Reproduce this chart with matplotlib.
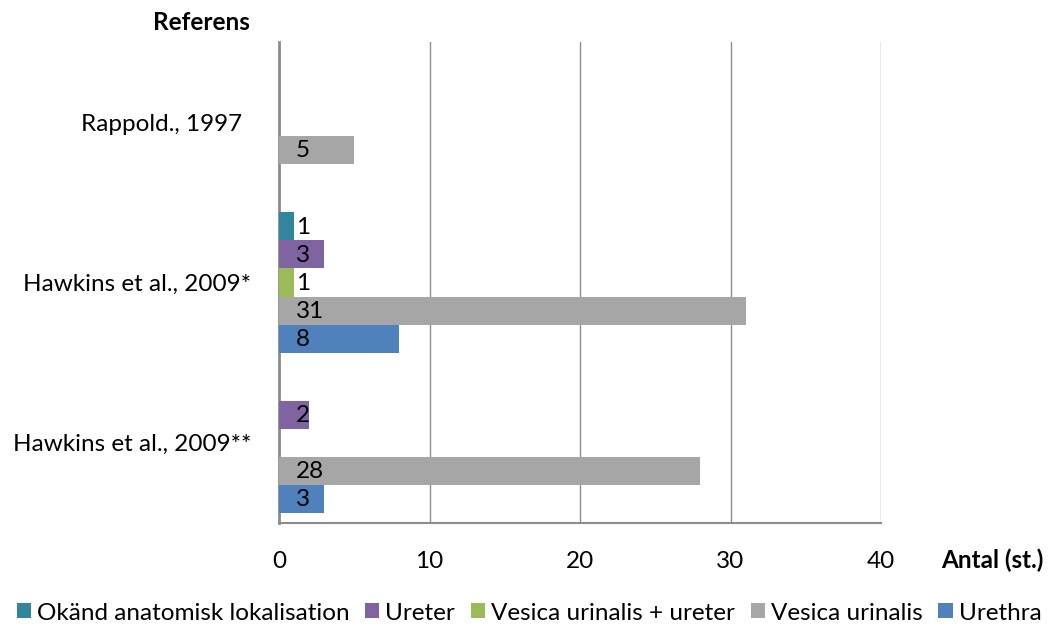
import numpy as np
import matplotlib.pyplot as plt
from matplotlib.transforms import ScaledTranslation

plt.rcParams['font.family'] = ['Lato', 'DejaVu Sans']

# categories listed bottom to top on the y axis
references = ["Hawkins et al., 2009**", "Hawkins et al., 2009*", "Rappold., 1997"]

series_names = ["Urethra", "Vesica urinalis", "Vesica urinalis + ureter",
                "Ureter", "Okänd anatomisk lokalisation"]
urethra = [3, 8, np.nan]
vesica = [28, 31, 5]
vesica_ureter = [np.nan, 1, np.nan]
ureter = [2, 3, np.nan]
okand = [np.nan, 1, np.nan]
series_values = [urethra, vesica, vesica_ureter, ureter, okand]
colors = ["#4F81BD", "#A6A6A6", "#9BBB59", "#8064A2", "#31859C"]

x_ticks = [0, 10, 20, 30, 40]

FS = 17.5

fig = plt.figure(figsize=(10.58, 6.32), dpi=100)
ax = fig.add_axes([279 / 1058, 1 - 523 / 632, 602 / 1058, 481 / 632])

h = 0.175
pos = np.arange(len(references))
handles = []
for k, (name, vals, col) in enumerate(zip(series_names, series_values, colors)):
    y = pos + (k - 2) * h
    b = ax.barh(y, vals, height=h, color=col, label=name, zorder=3)
    handles.append(b)
    for yi, v in zip(y, vals):
        if np.isnan(v):
            continue
        ax.annotate(f"{v:g}", xy=(0, yi), xytext=(12, -0.5), textcoords="offset points",
                    ha="left", va="center", fontsize=FS, color="black", zorder=4)

ax.set_xlim(0, 40)
ax.set_ylim(-0.5, 2.5)
ax.set_xticks(x_ticks)
ax.set_yticks(pos)
ax.set_yticklabels(references)
ax.tick_params(axis="both", length=0, labelsize=FS, colors="black")
ax.tick_params(axis="x", pad=20)
ax.tick_params(axis="y", pad=20)
ax.grid(axis="x", color="#8C8C8C", linewidth=1.0, zorder=0)
for side in ["top", "right"]:
    ax.spines[side].set_visible(False)
ax.spines["left"].set_color("#8C8C8C")
ax.spines["left"].set_linewidth(2.0)
ax.spines["bottom"].set_color("#8C8C8C")
ax.spines["bottom"].set_linewidth(1.5)

# the short top label sits a little further left
lab = ax.get_yticklabels()[2]
lab.set_transform(lab.get_transform() + ScaledTranslation(-0.09, 0, fig.dpi_scale_trans))

fig.text(201 / 1058, 1 - 22 / 632, "Referens", fontsize=FS, fontweight="bold",
         ha="center", va="center")
fig.text(992 / 1058, 1 - 560 / 632, "Antal (st.)", fontsize=FS, fontweight="bold",
         ha="center", va="center")

fig.legend(handles[::-1], series_names[::-1], loc="center", ncol=5,
           bbox_to_anchor=(0.5, 1 - 613 / 632), frameon=False, fontsize=FS,
           handlelength=0.58, handleheight=0.58, handletextpad=0.25,
           columnspacing=0.65, borderaxespad=0, borderpad=0)

fig.savefig("out.png", dpi=100)
